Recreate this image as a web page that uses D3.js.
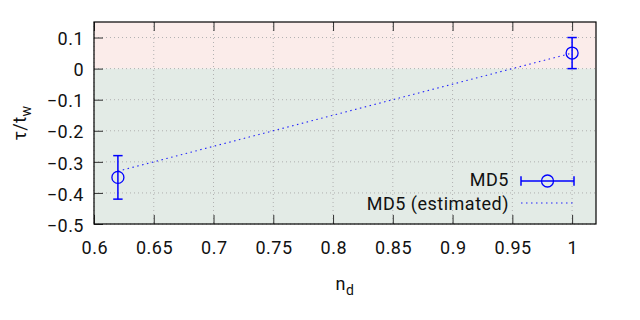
<!DOCTYPE html>
<html>
<head>
<meta charset="utf-8">
<script src="https://cdn.jsdelivr.net/npm/d3@7"></script>
<style>
  body { margin: 0; background: #fff; }
  svg { display: block; font-family: Roboto, sans-serif; }
  svg text { letter-spacing: 0.5px; }
</style>
</head>
<body>
<svg></svg>
<script>
// measured points (with error bars)
const ndValues = [0.62, 1.0];
const tauValues = [-0.35, 0.05];
const tauErrors = [0.07, 0.05];
// estimated line
const estNd = [0.62, 1.0];
const estTau = [-0.33, 0.05];
// axes
const xTicks = [0.6, 0.65, 0.7, 0.75, 0.8, 0.85, 0.9, 0.95, 1];
const yTicks = [0.1, 0, -0.1, -0.2, -0.3, -0.4, -0.5];
const seriesNames = ['MD5', 'MD5 (estimated)'];

const size = {w: 640, h: 320};
const margin = {t: 22, r: 44, b: 96, l: 94};
const svg = d3.select('svg').attr('width', size.w).attr('height', size.h);

const x = d3.scaleLinear().domain([0.6, 1.02]).range([margin.l, size.w - margin.r]);
const y = d3.scaleLinear().domain([-0.5, 0.15]).range([size.h - margin.b, margin.t]);
const blue = '#0000ff';
const fontSize = 18;

// background bands
svg.append('rect')
    .attr('x', x(0.6)).attr('y', y(0.15))
    .attr('width', x(1.02) - x(0.6)).attr('height', y(0) - y(0.15))
    .attr('fill', '#fbecea');
svg.append('rect')
    .attr('x', x(0.6)).attr('y', y(0))
    .attr('width', x(1.02) - x(0.6)).attr('height', y(-0.5) - y(0))
    .attr('fill', '#e3ebe6');

// grid
const grid = svg.append('g').attr('stroke', '#b0b0b0').attr('stroke-width', 1)
    .attr('stroke-dasharray', '1,3');
grid.selectAll('line.gx').data(xTicks).join('line')
    .attr('x1', d => x(d)).attr('x2', d => x(d))
    .attr('y1', y(0.15)).attr('y2', y(-0.5));
grid.selectAll('line.gy').data(yTicks).join('line')
    .attr('x1', x(0.6)).attr('x2', x(1.02))
    .attr('y1', d => y(d)).attr('y2', d => y(d));

// axes with inward ticks, labels drawn by d3.axis
const tickLen = 9;
const xAxis = svg.append('g')
    .attr('transform', `translate(0,${y(-0.5)})`)
    .call(d3.axisBottom(x).tickValues(xTicks).tickSize(-tickLen).tickPadding(20)
        .tickFormat(d3.format('')));
const xTop = svg.append('g')
    .attr('transform', `translate(0,${y(0.15)})`)
    .call(d3.axisTop(x).tickValues(xTicks).tickSize(-tickLen).tickFormat(''));
const yAxis = svg.append('g')
    .attr('transform', `translate(${x(0.6)},0)`)
    .call(d3.axisLeft(y).tickValues(yTicks).tickSize(-tickLen).tickPadding(20)
        .tickFormat(d3.format('')));

[xAxis, xTop, yAxis].forEach(g => {
    g.select('.domain').remove();
    g.selectAll('.tick line').attr('stroke', '#333').attr('stroke-width', 1);
    g.selectAll('.tick text').attr('font-size', fontSize).attr('fill', '#111')
        .attr('font-family', 'Roboto, sans-serif');
});
xAxis.selectAll('.tick text').attr('dy', '0.95em').attr('y', 13).attr('dx', 0.25);
yAxis.selectAll('.tick text').attr('dy', '0.4em').attr('x', -10);

// border
svg.append('rect')
    .attr('x', x(0.6)).attr('y', y(0.15))
    .attr('width', x(1.02) - x(0.6)).attr('height', y(-0.5) - y(0.15))
    .attr('fill', 'none').attr('stroke', '#000').attr('stroke-width', 1.2);

// estimated dotted line
const line = d3.line().x(d => x(d[0])).y(d => y(d[1]));
svg.append('path')
    .datum(d3.zip(estNd, estTau))
    .attr('d', line)
    .attr('fill', 'none')
    .attr('stroke', blue).attr('stroke-width', 1.1).attr('stroke-opacity', 0.85)
    .attr('stroke-dasharray', '1.5,3.5');

// error bars + circles
const pts = d3.zip(ndValues, tauValues, tauErrors);
const capW = 4.7;
const ptsG = svg.append('g').attr('stroke', blue).attr('stroke-width', 1.5).attr('fill', 'none');
ptsG.selectAll('line.err').data(pts).join('line')
    .attr('x1', d => x(d[0])).attr('x2', d => x(d[0]))
    .attr('y1', d => y(d[1] - d[2])).attr('y2', d => y(d[1] + d[2]));
ptsG.selectAll('line.capT').data(pts).join('line')
    .attr('x1', d => x(d[0]) - capW).attr('x2', d => x(d[0]) + capW)
    .attr('y1', d => y(d[1] + d[2])).attr('y2', d => y(d[1] + d[2]));
ptsG.selectAll('line.capB').data(pts).join('line')
    .attr('x1', d => x(d[0]) - capW).attr('x2', d => x(d[0]) + capW)
    .attr('y1', d => y(d[1] - d[2])).attr('y2', d => y(d[1] - d[2]));
ptsG.selectAll('circle').data(pts).join('circle')
    .attr('cx', d => x(d[0])).attr('cy', d => y(d[1])).attr('r', 6)
    .attr('stroke-width', 1.3);

// legend
const legend = svg.append('g');
const lx1 = 521, lx2 = 574, textX = 509;
legend.append('text').attr('x', textX).attr('y', 186).attr('text-anchor', 'end')
    .attr('font-size', fontSize).attr('fill', '#111').text(seriesNames[0]);
legend.append('line').attr('x1', lx1).attr('x2', lx2).attr('y1', 181).attr('y2', 181)
    .attr('stroke', blue).attr('stroke-width', 1.5);
[lx1, lx2].forEach(cx => legend.append('line')
    .attr('x1', cx).attr('x2', cx).attr('y1', 181 - capW).attr('y2', 181 + capW)
    .attr('stroke', blue).attr('stroke-width', 1.5));
legend.append('circle').attr('cx', (lx1 + lx2) / 2).attr('cy', 181).attr('r', 6)
    .attr('fill', 'none').attr('stroke', blue).attr('stroke-width', 1.3);
legend.append('text').attr('x', textX).attr('y', 210).attr('text-anchor', 'end')
    .attr('font-size', fontSize).attr('fill', '#111').text(seriesNames[1]);
legend.append('line').attr('x1', lx1).attr('x2', lx2).attr('y1', 203).attr('y2', 203)
    .attr('stroke', blue).attr('stroke-width', 1.1).attr('stroke-opacity', 0.85)
    .attr('stroke-dasharray', '1.5,3.5');

// axis titles
const xt = svg.append('text').attr('x', (x(0.6) + x(1.02)) / 2).attr('y', 290)
    .attr('text-anchor', 'middle').attr('font-size', fontSize).attr('fill', '#111');
xt.append('tspan').text('n');
xt.append('tspan').attr('dy', 5).attr('font-size', 14).text('d');

const yt = svg.append('text')
    .attr('transform', `translate(26,${(y(0.15) + y(-0.5)) / 2}) rotate(-90)`)
    .attr('text-anchor', 'middle').attr('font-size', fontSize).attr('fill', '#111');
yt.append('tspan').text('τ/t');
yt.append('tspan').attr('dy', 5).attr('font-size', 14).text('w');
</script>
</body>
</html>
